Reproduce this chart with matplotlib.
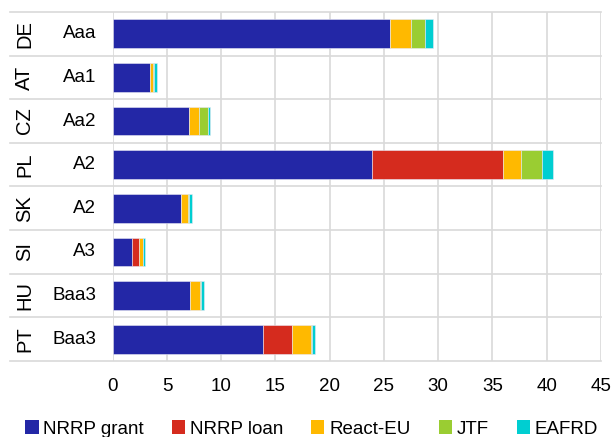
import numpy as np
import matplotlib
matplotlib.use('Agg')
import matplotlib.pyplot as plt
import matplotlib.transforms as mtransforms
from matplotlib.patches import Patch

# Data (EUR bn)
countries = ['DE', 'AT', 'CZ', 'PL', 'SK', 'SI', 'HU', 'PT']
ratings = ['Aaa', 'Aa1', 'Aa2', 'A2', 'A2', 'A3', 'Baa3', 'Baa3']
nrrp_grant = [25.6, 3.4, 7.05, 23.85, 6.3, 1.8, 7.15, 13.85]
nrrp_loan = [0.0, 0.0, 0.0, 12.1, 0.0, 0.65, 0.0, 2.7]
react_eu = [1.9, 0.35, 0.9, 1.65, 0.6, 0.3, 0.9, 1.7]
jtf = [1.3, 0.05, 0.85, 2.0, 0.15, 0.06, 0.1, 0.1]
eafrd = [0.7, 0.3, 0.2, 1.0, 0.22, 0.15, 0.3, 0.3]

series = [nrrp_grant, nrrp_loan, react_eu, jtf, eafrd]
names = ['NRRP grant', 'NRRP loan', 'React-EU', 'JTF', 'EAFRD']
colors = ['#2327A6', '#D52B1E', '#FFB900', '#9ACD32', '#00CED1']

plt.rcParams['font.family'] = ['Liberation Sans', 'DejaVu Sans']
plt.rcParams['font.size'] = 13.5

fig = plt.figure(figsize=(6.11, 4.37), dpi=100)
ax = fig.add_axes([0.1845, 0.174, 0.7991, 0.7985])

y = np.arange(len(countries))
left = np.zeros(len(countries))
for vals, name, col in zip(series, names, colors):
    vals = np.array(vals)
    ax.barh(y, vals, left=left, height=0.66, color=col, edgecolor='#e8e8f4',
            linewidth=0.4, zorder=3, label=name)
    left += vals

ax.set_xlim(0, 45)
ax.set_ylim(len(countries) - 0.5, -0.5)
ax.set_xticks(np.arange(0, 46, 5))
ax.set_yticks([])
ax.grid(axis='x', color='#d9d9d9', linewidth=1.2, zorder=0)
for s in ax.spines.values():
    s.set_visible(False)
ax.tick_params(axis='x', length=0, pad=12, labelsize=13.5)

# category separators and group labels
trans = mtransforms.blended_transform_factory(ax.transAxes, ax.transData)
for b in np.arange(-0.5, len(countries), 1.0):
    ax.plot([-0.21, 1.0], [b, b], color='#d9d9d9', linewidth=1.2,
            transform=trans, clip_on=False, zorder=1)
for i, (c, r) in enumerate(zip(countries, ratings)):
    ax.text(-0.18, i, c, rotation=90, ha='center', va='center',
            transform=trans, fontsize=14.5)
    ax.text(-0.034, i, r, ha='right', va='center', transform=trans,
            fontsize=13.5)

handles = [Patch(facecolor=c, edgecolor='none') for c in colors]
fig.legend(handles, names, loc='lower center', bbox_to_anchor=(0.51, -0.04),
           ncol=5, frameon=False, handlelength=0.7, handleheight=0.7,
           handletextpad=0.25, columnspacing=1.5, fontsize=13.5)

fig.savefig('out.png', dpi=100)
